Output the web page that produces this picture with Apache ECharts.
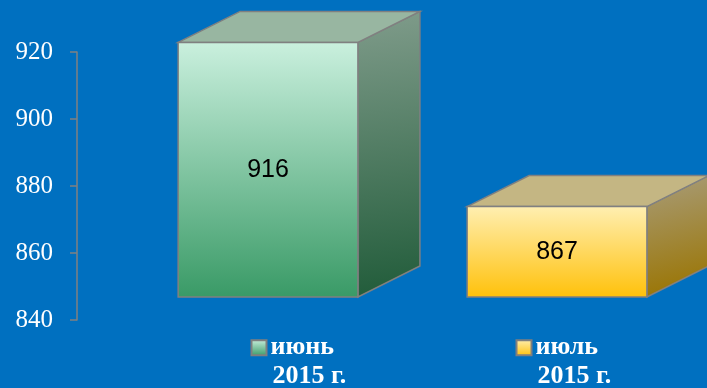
<!DOCTYPE html>
<html>
<head>
<meta charset="utf-8">
<script src="https://cdn.jsdelivr.net/npm/echarts@6/dist/echarts.min.js"></script>
<style>
  html, body { margin: 0; padding: 0; background: #0070C0; }
  #chart { width: 707px; height: 388px; }
</style>
</head>
<body>
<div id="chart"></div>
<script>
var months = ['июнь 2015 г.', 'июль 2015 г.'];
var values = [916, 867];
var yTicks = [840, 860, 880, 900, 920];

// face colours per bar: front top/bottom, top face, side top/bottom
var palette = [
  { front: ['#CAF0DE', '#399A66'], top: '#98B6A1', side: ['#809C8B', '#215C3A'] },
  { front: ['#FFEFB2', '#FFC10A'], top: '#C4B683', side: ['#A89D7C', '#9A7400'] }
];

var chart = echarts.init(document.getElementById('chart'));

var yMin = yTicks[0];
var depthX = 62, depthY = 31, lift = 23;

function grad(c, x2, y2) {
  return new echarts.graphic.LinearGradient(0, 0, x2, y2, [
    { offset: 0, color: c[0] },
    { offset: 1, color: c[1] }
  ]);
}

function renderBox(params, api) {
  var i = params.dataIndex;
  var bw = api.size([1, 0])[0];
  var base = api.coord([api.value(0), yMin]);
  var top = api.coord([api.value(0), api.value(1)]);
  var x0 = base[0] - bw * 0.15;
  var x1 = x0 + bw * 0.622;
  var yb = base[1] - lift;
  var yt = top[1] - lift;
  var c = palette[i];
  var edge = { stroke: '#808080', lineWidth: 1.5 };
  return {
    type: 'group',
    children: [
      {
        type: 'polygon',
        shape: { points: [[x1, yt], [x1 + depthX, yt - depthY], [x1 + depthX, yb - depthY], [x1, yb]] },
        style: Object.assign({ fill: grad(c.side, 0.5, 1) }, edge)
      },
      {
        type: 'polygon',
        shape: { points: [[x0, yt], [x0 + depthX, yt - depthY], [x1 + depthX, yt - depthY], [x1, yt]] },
        style: Object.assign({ fill: c.top }, edge)
      },
      {
        type: 'polygon',
        shape: { points: [[x0, yt], [x1, yt], [x1, yb], [x0, yb]] },
        style: Object.assign({ fill: grad(c.front, 0, 1) }, edge)
      },
      {
        type: 'text',
        style: {
          text: String(api.value(1)),
          x: (x0 + x1) / 2,
          y: (yt + yb) / 2,
          align: 'center',
          verticalAlign: 'middle',
          fill: '#000',
          font: '25px "Liberation Sans", Arial, sans-serif'
        }
      }
    ]
  };
}

var rich = {
  g: { width: 5 },
  s: { width: 20 },
  t: {
    color: '#fff',
    fontFamily: '"Liberation Serif", "Times New Roman", serif',
    fontWeight: 'bold',
    fontSize: 26,
    lineHeight: 29
  }
};
palette.forEach(function (c, i) {
  rich['k' + i] = {
    width: 13,
    height: 13,
    borderColor: '#7f7f7f',
    borderWidth: 2,
    backgroundColor: grad(c.front, 0, 1),
    verticalAlign: 'middle'
  };
});

var option = {
  backgroundColor: '#0070C0',
  animation: false,
  grid: [
    { left: 77, right: 52, top: 52, bottom: 68 },
    { left: 120, width: 530, top: 331, height: 1 }
  ],
  xAxis: [
    { type: 'category', data: months, show: false },
    {
      type: 'category',
      gridIndex: 1,
      data: months,
      axisLine: { show: false },
      axisTick: { show: false },
      axisLabel: {
        align: 'left',
        margin: 2,
        formatter: function (v, i) {
          var p = v.split(' ');
          return '{k' + i + '|}{g|}{t|' + p[0] + '}\n{s|}{t|' + p.slice(1).join(' ') + '}';
        },
        rich: rich
      }
    }
  ],
  yAxis: [
    {
      type: 'value',
      min: yMin,
      max: yTicks[yTicks.length - 1],
      interval: 20,
      axisLine: { show: true, lineStyle: { color: '#808080', width: 1.5 } },
      axisTick: { show: true, length: 7, lineStyle: { color: '#808080', width: 1.5 } },
      splitLine: { show: false },
      axisLabel: {
        margin: 24,
        color: '#fff',
        fontFamily: '"Liberation Serif", "Times New Roman", serif',
        fontSize: 25
      }
    },
    { type: 'value', gridIndex: 1, show: false }
  ],
  series: [{
    type: 'custom',
    renderItem: renderBox,
    encode: { x: 0, y: 1 },
    data: values.map(function (v, i) { return [i, v]; })
  }]
};

chart.setOption(option);
</script>
</body>
</html>
